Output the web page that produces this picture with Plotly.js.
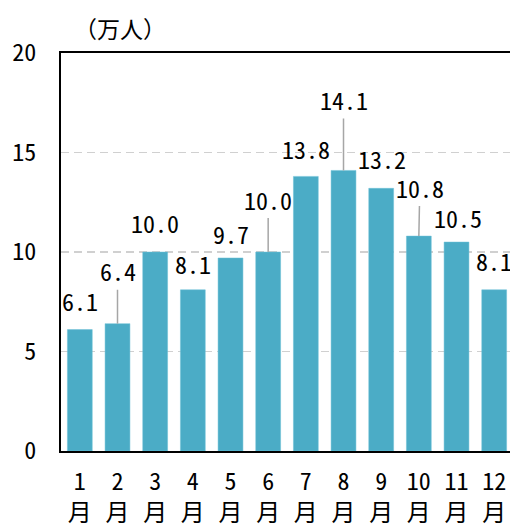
<!DOCTYPE html>
<html>
<head>
<meta charset="utf-8">
<script src="https://cdn.plot.ly/plotly-3.0.1.min.js"></script>
<style>html,body{margin:0;padding:0;background:#fff;overflow:hidden;}#chart{width:510px;height:530px;}</style>
</head>
<body>
<div id="chart"></div>
<script>
var months = ['1<br>月','2<br>月','3<br>月','4<br>月','5<br>月','6<br>月','7<br>月','8<br>月','9<br>月','10<br>月','11<br>月','12<br>月'];
var visitors = [6.1, 6.4, 10.0, 8.1, 9.7, 10.0, 13.8, 14.1, 13.2, 10.8, 10.5, 8.1];
var labelTexts = ['6.1','6.4','10.0','8.1','9.7','10.0','13.8','14.1','13.2','10.8','10.5','8.1'];
var yTicks = [0, 5, 10, 15, 20];
// label placement (pixels above bar top) and whether a leader line is drawn
var labelLift = [29, 53, 30, 26, 24, 53, 28, 71, 30, 49, 25, 29];
var labelShiftX = [0, 0, 0, 0, 0, 0, 0, 0, 1, 1, 1, 0];
var hasLeader = [false, true, false, false, false, true, false, true, false, true, false, false];

var FONT = '"Noto Sans Mono CJK JP", "Noto Sans CJK JP", sans-serif';

var annotations = visitors.map(function (v, i) {
  return {
    x: months[i], y: v, xref: 'x', yref: 'y',
    text: labelTexts[i],
    showarrow: true, arrowhead: 0, arrowwidth: 1.5,
    arrowcolor: hasLeader[i] ? '#a6a6a6' : 'rgba(0,0,0,0)',
    ax: labelShiftX[i], ay: -labelLift[i],
    standoff: 0, startstandoff: 0,
    font: {family: FONT, size: 24, color: '#000'}
  };
});

var data = [{
  type: 'bar', x: months, y: visitors,
  marker: {color: '#4BACC6', line: {color: '#6cc0d6', width: 0.5}},
  width: 0.66, hoverinfo: 'none'
}];

var layout = {
  width: 510, height: 530,
  margin: {l: 61, r: 0, t: 53, b: 79, pad: 0},
  paper_bgcolor: '#fff', plot_bgcolor: '#fff',
  showlegend: false,
  font: {family: FONT, size: 24, color: '#000'},
  title: {text: '（万人）', font: {family: '"Noto Sans CJK JP", sans-serif', size: 23, color: '#000'},
          xref: 'container', yref: 'container', x: 120/510, xanchor: 'center', y: 1 - 30/530, yanchor: 'middle'},
  xaxis: {
    type: 'category', range: [-0.5, 11.42],
    showline: true, linecolor: '#000', linewidth: 2, mirror: true,
    showgrid: false, ticks: '', ticklabelstandoff: 8,
    tickfont: {family: FONT, size: 24, color: '#000'}
  },
  yaxis: {
    range: [0, 20], tickvals: yTicks, ticktext: yTicks.map(String),
    showline: true, linecolor: '#000', linewidth: 2,
    showgrid: true, gridcolor: '#d0d0d0', griddash: '8px,5px', gridwidth: 1.5,
    zeroline: false, ticks: '', ticklabelstandoff: 18,
    tickfont: {family: FONT, size: 24, color: '#000'}
  },
  annotations: annotations
};

Plotly.newPlot('chart', data, layout, {staticPlot: true, displayModeBar: false});
</script>
</body>
</html>
